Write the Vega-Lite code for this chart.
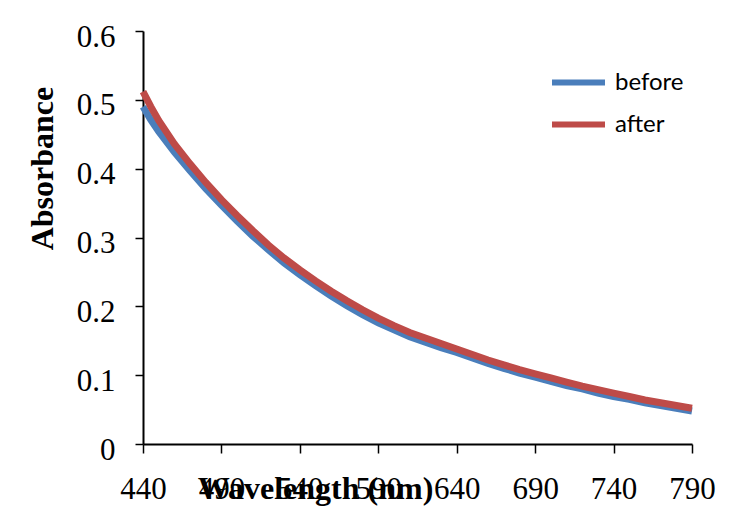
{
  "$schema": "https://vega.github.io/schema/vega-lite/v6.json",
  "width": 549,
  "height": 413,
  "autosize": {"type": "none"},
  "padding": {"left": 143, "top": 31, "right": 43, "bottom": 87},
  "background": "white",
  "config": {"view": {"stroke": null}},
  "data": {"values": [
    {"wavelength": 440, "absorbance": 0.490, "series": "before"},
    {"wavelength": 445, "absorbance": 0.471, "series": "before"},
    {"wavelength": 450, "absorbance": 0.454, "series": "before"},
    {"wavelength": 460, "absorbance": 0.424, "series": "before"},
    {"wavelength": 470, "absorbance": 0.397, "series": "before"},
    {"wavelength": 480, "absorbance": 0.371, "series": "before"},
    {"wavelength": 490, "absorbance": 0.347, "series": "before"},
    {"wavelength": 500, "absorbance": 0.324, "series": "before"},
    {"wavelength": 510, "absorbance": 0.302, "series": "before"},
    {"wavelength": 520, "absorbance": 0.282, "series": "before"},
    {"wavelength": 530, "absorbance": 0.263, "series": "before"},
    {"wavelength": 540, "absorbance": 0.246, "series": "before"},
    {"wavelength": 550, "absorbance": 0.230, "series": "before"},
    {"wavelength": 560, "absorbance": 0.215, "series": "before"},
    {"wavelength": 570, "absorbance": 0.201, "series": "before"},
    {"wavelength": 580, "absorbance": 0.188, "series": "before"},
    {"wavelength": 590, "absorbance": 0.176, "series": "before"},
    {"wavelength": 600, "absorbance": 0.166, "series": "before"},
    {"wavelength": 610, "absorbance": 0.156, "series": "before"},
    {"wavelength": 620, "absorbance": 0.148, "series": "before"},
    {"wavelength": 630, "absorbance": 0.140, "series": "before"},
    {"wavelength": 640, "absorbance": 0.133, "series": "before"},
    {"wavelength": 650, "absorbance": 0.125, "series": "before"},
    {"wavelength": 660, "absorbance": 0.117, "series": "before"},
    {"wavelength": 670, "absorbance": 0.110, "series": "before"},
    {"wavelength": 680, "absorbance": 0.103, "series": "before"},
    {"wavelength": 690, "absorbance": 0.097, "series": "before"},
    {"wavelength": 700, "absorbance": 0.091, "series": "before"},
    {"wavelength": 710, "absorbance": 0.085, "series": "before"},
    {"wavelength": 720, "absorbance": 0.080, "series": "before"},
    {"wavelength": 730, "absorbance": 0.074, "series": "before"},
    {"wavelength": 740, "absorbance": 0.069, "series": "before"},
    {"wavelength": 750, "absorbance": 0.065, "series": "before"},
    {"wavelength": 760, "absorbance": 0.060, "series": "before"},
    {"wavelength": 770, "absorbance": 0.056, "series": "before"},
    {"wavelength": 780, "absorbance": 0.052, "series": "before"},
    {"wavelength": 790, "absorbance": 0.048, "series": "before"},
    {"wavelength": 440, "absorbance": 0.512, "series": "after"},
    {"wavelength": 445, "absorbance": 0.490, "series": "after"},
    {"wavelength": 450, "absorbance": 0.470, "series": "after"},
    {"wavelength": 460, "absorbance": 0.436, "series": "after"},
    {"wavelength": 470, "absorbance": 0.407, "series": "after"},
    {"wavelength": 480, "absorbance": 0.380, "series": "after"},
    {"wavelength": 490, "absorbance": 0.355, "series": "after"},
    {"wavelength": 500, "absorbance": 0.332, "series": "after"},
    {"wavelength": 510, "absorbance": 0.310, "series": "after"},
    {"wavelength": 520, "absorbance": 0.289, "series": "after"},
    {"wavelength": 530, "absorbance": 0.270, "series": "after"},
    {"wavelength": 540, "absorbance": 0.253, "series": "after"},
    {"wavelength": 550, "absorbance": 0.237, "series": "after"},
    {"wavelength": 560, "absorbance": 0.222, "series": "after"},
    {"wavelength": 570, "absorbance": 0.208, "series": "after"},
    {"wavelength": 580, "absorbance": 0.195, "series": "after"},
    {"wavelength": 590, "absorbance": 0.183, "series": "after"},
    {"wavelength": 600, "absorbance": 0.172, "series": "after"},
    {"wavelength": 610, "absorbance": 0.162, "series": "after"},
    {"wavelength": 620, "absorbance": 0.154, "series": "after"},
    {"wavelength": 630, "absorbance": 0.146, "series": "after"},
    {"wavelength": 640, "absorbance": 0.138, "series": "after"},
    {"wavelength": 650, "absorbance": 0.130, "series": "after"},
    {"wavelength": 660, "absorbance": 0.122, "series": "after"},
    {"wavelength": 670, "absorbance": 0.115, "series": "after"},
    {"wavelength": 680, "absorbance": 0.108, "series": "after"},
    {"wavelength": 690, "absorbance": 0.102, "series": "after"},
    {"wavelength": 700, "absorbance": 0.096, "series": "after"},
    {"wavelength": 710, "absorbance": 0.090, "series": "after"},
    {"wavelength": 720, "absorbance": 0.084, "series": "after"},
    {"wavelength": 730, "absorbance": 0.079, "series": "after"},
    {"wavelength": 740, "absorbance": 0.074, "series": "after"},
    {"wavelength": 750, "absorbance": 0.069, "series": "after"},
    {"wavelength": 760, "absorbance": 0.064, "series": "after"},
    {"wavelength": 770, "absorbance": 0.060, "series": "after"},
    {"wavelength": 780, "absorbance": 0.056, "series": "after"},
    {"wavelength": 790, "absorbance": 0.052, "series": "after"}
  ]},
  "mark": {"type": "line", "strokeWidth": 7, "clip": false},
  "encoding": {
    "x": {
      "field": "wavelength", "type": "quantitative",
      "scale": {"domain": [440, 790], "nice": false, "zero": false},
      "axis": {
        "values": [440, 490, 540, 590, 640, 690, 740, 790],
        "format": "d",
        "grid": false,
        "domainColor": "black", "domainWidth": 2,
        "tickColor": "black", "tickWidth": 1.5, "tickSize": 9,
        "labelFont": "Liberation Serif", "labelFontSize": 31, "labelColor": "black",
        "labelPadding": 21, "labelFlush": false, "labelOverlap": false,
        "title": "Wavelength (nm)",
        "titleFont": "Liberation Serif", "titleFontSize": 32, "titleFontWeight": "bold", "titleColor": "black",
        "titleX": 172, "titleY": 54, "titleAnchor": "middle", "titleAlign": "center", "titleBaseline": "alphabetic"
      }
    },
    "y": {
      "field": "absorbance", "type": "quantitative",
      "scale": {"domain": [0, 0.6], "nice": false},
      "axis": {
        "values": [0, 0.1, 0.2, 0.3, 0.4, 0.5, 0.6],
        "format": "~g",
        "grid": false,
        "domainColor": "black", "domainWidth": 2,
        "tickColor": "black", "tickWidth": 1.5, "tickSize": 8,
        "labelFont": "Liberation Serif", "labelFontSize": 31, "labelColor": "black",
        "labelPadding": 20, "labelOffset": 6, "labelFlush": false, "labelOverlap": false,
        "title": "Absorbance",
        "titleFont": "Liberation Serif", "titleFontSize": 32, "titleFontWeight": "bold", "titleColor": "black",
        "titleX": -101, "titleY": 137, "titleAngle": -90, "titleAlign": "center", "titleBaseline": "middle"
      }
    },
    "color": {
      "field": "series", "type": "nominal",
      "scale": {"domain": ["before", "after"], "range": ["#4A7EBB", "#BE4B48"]},
      "legend": {
        "title": null,
        "orient": "none", "legendX": 406, "legendY": 22,
        "symbolType": "stroke", "symbolSize": 2809, "symbolStrokeWidth": 6,
        "rowPadding": -5, "labelOffset": 7,
        "labelFont": "Lato", "labelFontSize": 24, "labelColor": "black",
        "padding": 0
      }
    },
    "order": {"field": "wavelength", "type": "quantitative"}
  }
}
